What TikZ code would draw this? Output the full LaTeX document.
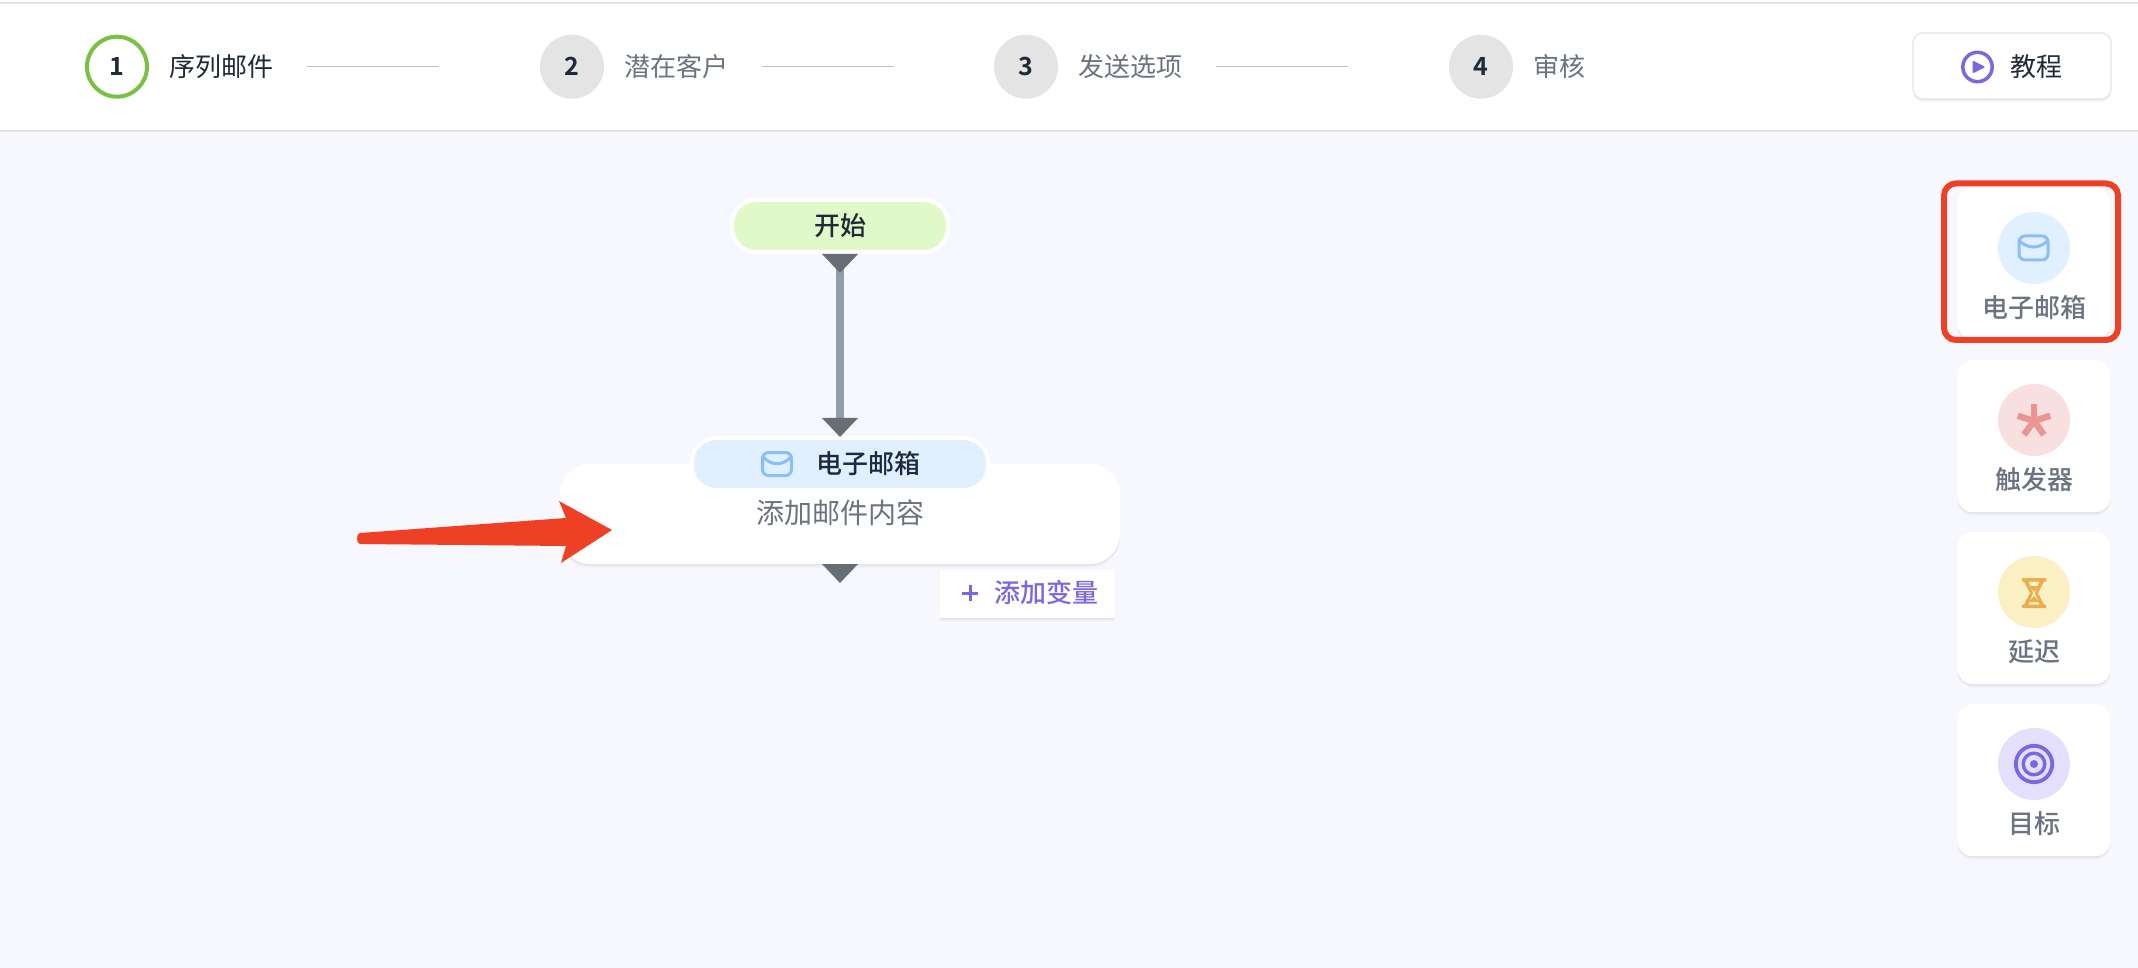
\documentclass[tikz,border=0pt]{standalone}
\usepackage{fontspec}
\usetikzlibrary{shadows}
\setmainfont[BoldFont={Noto Sans CJK SC Bold}]{Noto Sans CJK SC}
\newfontfamily\medf{Noto Sans CJK SC Medium}
\definecolor{pagebg}{HTML}{F7F8FD}
\definecolor{rulegray}{HTML}{E4E4E8}
\definecolor{dark}{HTML}{1F2937}
\definecolor{muted}{HTML}{6B7280}
\definecolor{stepgray}{HTML}{E4E4E4}
\definecolor{ringgreen}{HTML}{7AC143}
\definecolor{linegray}{HTML}{BDBDBD}
\definecolor{purple}{HTML}{7B68E0}
\definecolor{connline}{HTML}{90A0AB}
\definecolor{tri}{HTML}{686E76}
\definecolor{startgreen}{HTML}{E1F9C8}
\definecolor{mailblue}{HTML}{E1F0FF}
\definecolor{iconblue}{HTML}{8ABEF8}
\definecolor{redmark}{HTML}{EE4024}
\definecolor{pinkbg}{HTML}{F9E0E0}
\definecolor{pinkic}{HTML}{E99690}
\definecolor{yellowbg}{HTML}{FAF0C3}
\definecolor{amber}{HTML}{E8AE4F}
\definecolor{lilac}{HTML}{E4E0FB}
\tikzset{
  x=0.5pt,y=-0.5pt,
  softshadow/.style={
    preaction={drop shadow={shadow xshift=0pt,shadow yshift=-2pt,fill=black,opacity=.012}},
    preaction={drop shadow={shadow xshift=0pt,shadow yshift=-1.5pt,fill=black,opacity=.02}},
    preaction={drop shadow={shadow xshift=0pt,shadow yshift=-1pt,fill=black,opacity=.025}},
    preaction={drop shadow={shadow xshift=0pt,shadow yshift=-0.5pt,fill=black,opacity=.03}}},
  stepdot/.style={circle,fill=stepgray,minimum size=32pt,inner sep=0pt,outer sep=0pt,text=dark,font=\bfseries\fontsize{12.5}{14}\selectfont},
  steptxt/.style={anchor=west,inner sep=0pt,outer sep=0pt,text=muted,font=\fontsize{13}{15}\selectfont},
  stepline/.style={draw=linegray,line width=0.75pt},
  pillbox/.style={rounded corners=12pt,draw=white,line width=2pt,inner sep=0pt,outer sep=0pt},
  pilltxt/.style={inner sep=0pt,outer sep=0pt,text=dark,font=\medf\fontsize{13}{15}\selectfont},
  sidecard/.style={rounded corners=7pt,fill=white,minimum width=76pt,minimum height=76pt,inner sep=0pt,outer sep=0pt,softshadow},
  sidetxt/.style={inner sep=0pt,outer sep=0pt,text=muted,font=\medf\fontsize{13}{15}\selectfont},
  disc/.style={circle,minimum size=36pt,inner sep=0pt,outer sep=0pt},
  tipdown/.style={fill=tri,draw=none},
  conn/.style={draw=connline,line width=4pt,shorten <=7pt,shorten >=10pt},
}
\begin{document}
\begin{tikzpicture}
\useasboundingbox (0,0) rectangle (2138,968);
\fill[pagebg] (0,0) rectangle (2138,968);
% header
\fill[white] (0,0) rectangle (2138,130);
\fill[rulegray] (0,2) rectangle (2138,3.7);
\fill[rulegray] (0,130) rectangle (2138,132);
% steps
\node[stepdot,fill=white,draw=ringgreen,line width=2pt,minimum size=30pt] (s1) at (117,66.7) {1};
\node[steptxt,text=dark] (t1) at (169.5,66.7) {序列邮件};
\node[stepdot] (s2) at (572,66.7) {2};
\node[steptxt] (t2) at (624.5,66.7) {潜在客户};
\node[stepdot] (s3) at (1026,66.7) {3};
\node[steptxt] (t3) at (1078.5,66.7) {发送选项};
\node[stepdot] (s4) at (1481,66.7) {4};
\node[steptxt] (t4) at (1533.5,66.7) {审核};
\coordinate (a1) at (307,66.7); \coordinate (b1) at (439,66.7);
\coordinate (a2) at (762,66.7); \coordinate (b2) at (894,66.7);
\coordinate (a3) at (1216,66.7); \coordinate (b3) at (1348,66.7);
\draw[stepline] (a1) -- (b1);
\draw[stepline] (a2) -- (b2);
\draw[stepline] (a3) -- (b3);
% tutorial button
\node[rounded corners=5pt,fill=white,draw=rulegray,line width=0.6pt,minimum width=99pt,minimum height=33pt,inner sep=0pt,outer sep=0pt,softshadow] (tut) at (2012,66) {};
\draw[purple,line width=1.75pt] (1977.5,67) circle (14.7);
\fill[purple,rounded corners=0.6pt] (1972.5,60.5) -- (1985.5,67) -- (1972.5,73.5) -- cycle;
\node[pilltxt,anchor=west,font=\fontsize{13}{15}\selectfont] (tuttxt) at (2010,67) {教程};
% main card
\node[rounded corners=15pt,fill=white,minimum width=280pt,minimum height=50pt,inner sep=0pt,outer sep=0pt,softshadow] (card) at (840,514) {};
\node[sidetxt,font=\fontsize{14}{16}\selectfont] (cardtxt) at (840,513) {添加邮件内容};
% connector and pills
\node[pillbox,fill=startgreen,minimum width=108pt,minimum height=26pt] (start) at (840,226) {};
\node[pilltxt] (starttxt) at (840,226) {开始};
\node[pillbox,fill=mailblue,minimum width=148pt,minimum height=26pt] (mail) at (840,464) {};
\node[pilltxt,anchor=west] (mailtxt) at (816,464) {电子邮箱};
\draw[conn] (start.south) -- (mail.north);
\fill[tipdown] (822,254) -- (858,254) -- (840,273) -- cycle;
\fill[tipdown] (822,418) -- (858,418) -- (840,437) -- cycle;
\fill[tipdown] (822,564) -- (858,564) -- (840,583) -- cycle;
% small envelope in pill
\draw[iconblue,line width=1.5pt,rounded corners=3pt] (762.5,452.5) rectangle (791.5,475.5);
\draw[iconblue,line width=1.5pt,line cap=round] (763,457) .. controls (772,466) and (782,466) .. (791,457);
% add variable
\node[fill=white,minimum width=87pt,minimum height=24pt,inner sep=0pt,outer sep=0pt,softshadow] (addvar) at (1027,594) {};
\fill[purple] (962,591.5) rectangle (978,594.5);
\fill[purple] (968.5,585) rectangle (971.5,601);
\node[sidetxt,anchor=west,text=purple] (addtxt) at (994.5,593) {添加变量};
% red arrow
\fill[redmark] (360,533) -- (566,518) -- (559,501) -- (612,530) -- (561,563) -- (566,546) -- (360,544)
  .. controls (356,544) and (356,533) .. (360,533) -- cycle;
% side cards
\node[sidecard] (c1) at (2034,263.5) {};
\node[disc,fill=mailblue] (d1) at (2034,248) {};
\draw[iconblue,line width=1.5pt,rounded corners=3pt] (2019,236) rectangle (2048,260);
\draw[iconblue,line width=1.5pt,line cap=round] (2019.5,241) .. controls (2028,249) and (2039,249) .. (2047.5,241);
\node[sidetxt] (l1) at (2034.5,308) {电子邮箱};
\draw[redmark,line width=3pt,rounded corners=6pt] (1944,183.5) rectangle (2118,340);
\node[sidecard] (c2) at (2034,436) {};
\node[disc,fill=pinkbg] (d2) at (2034,420) {};
\foreach \a in {270,342,54,126,198}
  \draw[pinkic,line width=3.2pt] (2034,421) -- ++(\a:17);
\node[sidetxt] (l2) at (2034,480) {触发器};
\node[sidecard] (c3) at (2034,608) {};
\node[disc,fill=yellowbg] (d3) at (2034,592) {};
\fill[amber,even odd rule] (2022,578) -- (2046,578) -- (2046,581.5) -- (2044,581.5) -- (2038,593) -- (2044,604.5) -- (2046,604.5) -- (2046,608) -- (2022,608) -- (2022,604.5) -- (2024,604.5) -- (2030,593) -- (2024,581.5) -- (2022,581.5) -- cycle
  (2028.5,581.5) -- (2039.5,581.5) -- (2035,593) -- (2039.5,604.5) -- (2028.5,604.5) -- (2033,593) -- cycle;
\fill[amber] (2029.5,586) -- (2038.5,586) -- (2034,592) -- cycle;
\fill[amber] (2034,596) -- (2039,602) -- (2029,602) -- cycle;
\node[sidetxt] (l3) at (2034,652) {延迟};
\node[sidecard] (c4) at (2034,780) {};
\node[disc,fill=lilac] (d4) at (2034,764) {};
\draw[purple,line width=1.9pt] (2034,764) circle (18.2);
\draw[purple,line width=1.7pt] (2034,764) circle (10.8);
\fill[purple] (2034,764) circle (4);
\node[sidetxt] (l4) at (2034,824) {目标};
\end{tikzpicture}
\end{document}
